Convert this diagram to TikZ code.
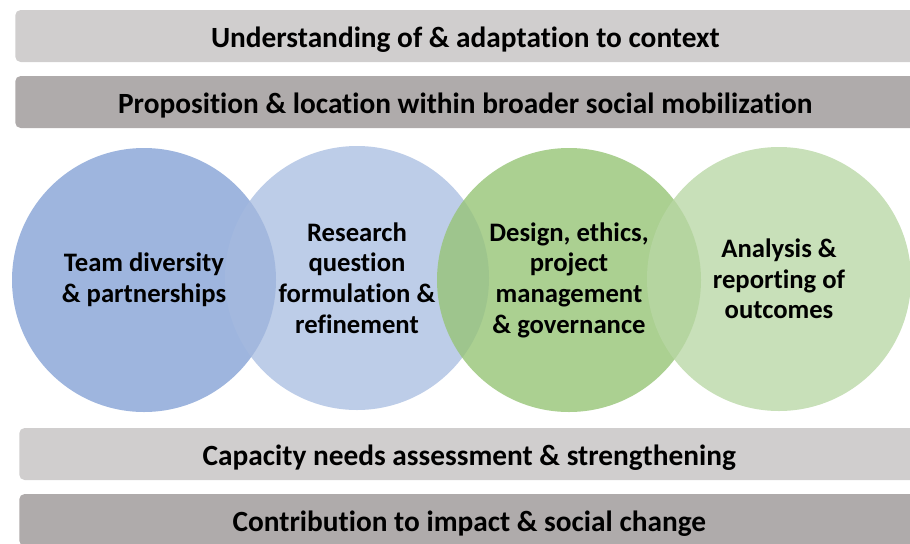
\documentclass[tikz,border=0pt]{standalone}
\usepackage{fontspec}
\setmainfont{Carlito}[Ligatures=CommonOff]
\usetikzlibrary{positioning}
\usepackage{xcolor}

\definecolor{barlight}{RGB}{208,206,206}
\definecolor{bardark}{RGB}{175,171,171}
\definecolor{blueA}{RGB}{158,181,222}
\definecolor{blueB}{RGB}{165,186,223}
\definecolor{greenA}{RGB}{150,196,118}
\definecolor{greenB}{RGB}{185,215,165}

\begin{document}
\begin{tikzpicture}[x=0.75pt, y=-0.75pt,
  bar/.style={rectangle, rounded corners=4pt, anchor=west, inner sep=0pt,
    minimum width=675pt, minimum height=39pt, text height=19.5pt, text depth=2pt,
    font=\bfseries\fontsize{22}{26}\selectfont},
  stage/.style={circle, inner sep=0pt, minimum size=198pt, align=center,
    text opacity=1, font=\bfseries\fontsize{20}{23}\selectfont}]
  \useasboundingbox (0,0) rectangle (910,543);
  \clip (0,0) rectangle (910,543);

  % bands above the stages
  \node[bar, fill=barlight] (context) at (15,36) {Understanding of \& adaptation to context};
  \node[bar, fill=bardark] (mobil) at (15,102) {Proposition \& location within broader social mobilization};

  % the four stages
  \node[stage, fill=blueA] (team) at (144,280) {Team diversity\\\& partnerships};
  \node[stage, fill=blueB, fill opacity=0.73] (question) at (357,278) {Research\\question\\formulation \&\\refinement};
  \node[stage, fill=greenA, fill opacity=0.8] (design) at (569,280) {Design, ethics,\\project\\management\\\& governance};
  \node[stage, fill=greenB, fill opacity=0.78] (analysis) at (779,279) {Analysis \&\\reporting of\\outcomes};

  % bands below the stages
  \node[bar, fill=barlight] (capacity) at (19,454) {Capacity needs assessment \& strengthening};
  \node[bar, fill=bardark] (impact) at (19,520) {Contribution to impact \& social change};
\end{tikzpicture}
\end{document}
